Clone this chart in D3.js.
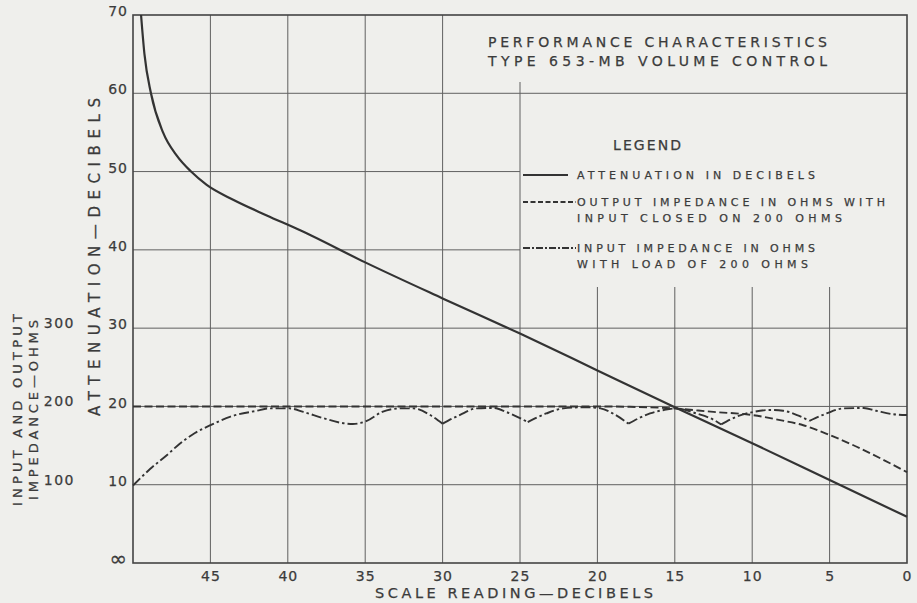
<!DOCTYPE html>
<html>
<head>
<meta charset="utf-8">
<script src="https://cdn.jsdelivr.net/npm/d3@7"></script>
<style>
  body { margin: 0; background: #efefec; }
  svg { display: block; }
  text { font-family: 'DejaVu Sans', sans-serif; fill: #3b3b3b; stroke: #3b3b3b; stroke-width: 0.25; }
</style>
</head>
<body>
<svg id="chart" width="917" height="603"></svg>
<script>
// [scale reading dB, attenuation dB]
const attenuation = [
  [49.48, 70], [49.26, 65], [48.84, 60], [48.06, 55], [47.16, 52], [46.25, 50],
  [45.24, 48.3], [43.53, 46.4], [41.36, 44.4], [39.2, 42.5],
  [35, 38.4], [30, 33.8], [25, 29.3], [20, 24.6], [15, 19.9], [10, 15.3], [5, 10.6], [0, 5.9]
];
// [scale reading dB, ohms]
const outputImpedance = [
  [50, 200], [20, 200], [17.9, 199.5], [15.1, 197.5], [12.5, 193], [10, 189], [8.2, 182.5],
  [6.7, 176], [5, 163.5], [3.25, 148.5], [1.5, 131.5], [0, 116]
];
const inputImpedance = [
  [50, 99], [48.9, 120], [47.8, 138], [47, 152], [46, 166], [45, 176], [43.7, 187], [42, 194.5],
  [41.2, 197.5], [39.9, 197.5], [39, 193], [37.7, 185], [36.4, 178.5], [35.8, 177.5], [34.9, 181.5],
  [33.9, 193], [32.75, 197.5], [31.9, 197.5], [30.8, 189], [30, 178],
  [28.9, 189], [27.8, 197.5], [26.7, 198], [25.9, 193], [24.5, 180],
  [23.3, 191], [22.2, 197.5], [20.7, 199], [19.8, 197.5], [19, 191], [18, 178],
  [16.6, 191], [15.7, 195.5], [14.9, 197.5], [13.6, 191], [12.5, 183], [12, 177],
  [11, 187], [9.9, 193], [8.85, 195.5], [8, 194.5], [7.1, 189], [6.3, 181.5],
  [5.2, 191], [4.1, 197.5], [2.8, 198], [2, 194.5], [0.9, 190], [0, 189]
];
// readings where the input impedance curve has a sharp cusp
const inputCusps = [30, 24.5, 18, 12, 6.3];

const xTicks = [45, 40, 35, 30, 25, 20, 15, 10, 5, 0];
const dbTicks = [0, 10, 20, 30, 40, 50, 60, 70];
const ohmTicks = [100, 200, 300];

const titleLines = ['PERFORMANCE CHARACTERISTICS', 'TYPE 653-MB VOLUME CONTROL'];
const legendLabels = [
  ['ATTENUATION IN DECIBELS'],
  ['OUTPUT IMPEDANCE IN OHMS WITH', 'INPUT CLOSED ON 200 OHMS'],
  ['INPUT IMPEDANCE IN OHMS', 'WITH LOAD OF 200 OHMS']
];

const svg = d3.select('#chart');
const plotLeft = 133, plotRight = 907, plotTop = 15, plotBottom = 563;

const x = d3.scaleLinear().domain([50, 0]).range([plotLeft, plotRight]);
const yDb = d3.scaleLinear().domain([0, 70]).range([plotBottom, plotTop]);
const yOhm = d3.scaleLinear().domain([0, 700]).range([plotBottom, plotTop]);

const ink = '#333';
const gridColor = '#606060';

// grid, with the title / legend panel at top right kept clear
const legendTop = 287;
const grid = svg.append('g');
grid.selectAll('line.v')
  .data(xTicks.filter(d => d > 0))
  .enter().append('line')
  .attr('x1', d => x(d)).attr('x2', d => x(d))
  .attr('y1', d => d >= 30 ? plotTop : (d === 25 ? 82 : legendTop))
  .attr('y2', plotBottom)
  .attr('stroke', gridColor).attr('stroke-width', 1);
grid.selectAll('line.h')
  .data(dbTicks.filter(d => d > 0 && d < 70))
  .enter().append('line')
  .attr('x1', plotLeft)
  .attr('x2', d => (d === 40 || d === 50) ? x(25) : plotRight)
  .attr('y1', d => yDb(d)).attr('y2', d => yDb(d))
  .attr('stroke', gridColor).attr('stroke-width', 1);

svg.append('rect')
  .attr('x', plotLeft).attr('y', plotTop)
  .attr('width', plotRight - plotLeft).attr('height', plotBottom - plotTop)
  .attr('fill', 'none').attr('stroke', '#444').attr('stroke-width', 1.6);

// axis tick labels
const dbAxis = d3.axisLeft(yDb).tickValues(dbTicks).tickSize(0).tickPadding(5)
  .tickFormat(d => d === 0 ? '\u221E' : d);
const gDb = svg.append('g').attr('transform', `translate(${plotLeft},0)`).call(dbAxis);
gDb.select('.domain').remove();
gDb.selectAll('text')
  .attr('font-size', d => d === 0 ? 21 : 14)
  .attr('dy', d => d === 0 ? '0.12em' : '0.05em')
  .attr('letter-spacing', 1)
  .attr('font-family', 'DejaVu Sans').attr('fill', '#3b3b3b');

const ohmAxis = d3.axisLeft(yOhm).tickValues(ohmTicks).tickSize(0).tickPadding(0);
const gOhm = svg.append('g').attr('transform', 'translate(75,0)').call(ohmAxis);
gOhm.select('.domain').remove();
gOhm.selectAll('text')
  .attr('font-size', 14).attr('dy', '-0.05em').attr('letter-spacing', 1.5)
  .attr('font-family', 'DejaVu Sans').attr('fill', '#3b3b3b');

const xAxis = d3.axisBottom(x).tickValues(xTicks).tickSize(0).tickPadding(8);
const gX = svg.append('g').attr('transform', `translate(0,${plotBottom})`).call(xAxis);
gX.select('.domain').remove();
gX.selectAll('text')
  .attr('font-size', 14).attr('letter-spacing', 1)
  .attr('font-family', 'DejaVu Sans').attr('fill', '#3b3b3b');

// axis titles
svg.append('text')
  .attr('x', 514).attr('y', 598)
  .attr('text-anchor', 'middle').attr('font-size', 14.5)
  .attr('textLength', 278).attr('lengthAdjust', 'spacing')
  .text('SCALE READING\u2014DECIBELS');
svg.append('text')
  .attr('transform', 'translate(100,257) rotate(-90)')
  .attr('text-anchor', 'middle').attr('font-size', 15)
  .attr('textLength', 318).attr('lengthAdjust', 'spacing')
  .text('ATTENUATION\u2014DECIBELS');
svg.append('text')
  .attr('transform', 'translate(22,410) rotate(-90)')
  .attr('text-anchor', 'middle').attr('font-size', 13)
  .attr('textLength', 192).attr('lengthAdjust', 'spacing')
  .text('INPUT AND OUTPUT');
svg.append('text')
  .attr('transform', 'translate(38,410) rotate(-90)')
  .attr('text-anchor', 'middle').attr('font-size', 13)
  .attr('textLength', 180).attr('lengthAdjust', 'spacing')
  .text('IMPEDANCE\u2014OHMS');

// curves
const lineDb = d3.line()
  .x(d => x(d[0])).y(d => yDb(d[1]))
  .curve(d3.curveMonotoneX);
const lineOhm = d3.line()
  .x(d => x(d[0])).y(d => yOhm(d[1]))
  .curve(d3.curveMonotoneX);

svg.append('path')
  .attr('d', lineOhm(outputImpedance))
  .attr('fill', 'none').attr('stroke', ink)
  .attr('stroke-width', 1.9).attr('stroke-dasharray', '8,3.5');

// split the input impedance curve at the cusps so they stay sharp
const pieces = [];
let cur = [];
inputImpedance.forEach(p => {
  cur.push(p);
  if (inputCusps.includes(p[0])) {
    pieces.push(cur);
    cur = [p];
  }
});
if (cur.length > 1) pieces.push(cur);

svg.append('g')
  .selectAll('path')
  .data(pieces)
  .enter().append('path')
  .attr('d', d => lineOhm(d))
  .attr('fill', 'none').attr('stroke', ink)
  .attr('stroke-width', 1.9).attr('stroke-dasharray', '10,3,2.5,3');

svg.append('path')
  .attr('d', lineDb(attenuation))
  .attr('fill', 'none').attr('stroke', ink)
  .attr('stroke-width', 2.2);

// title
svg.append('g')
  .selectAll('text')
  .data(titleLines)
  .enter().append('text')
  .attr('x', 488).attr('y', (d, i) => 47 + i * 19)
  .attr('font-size', 14)
  .attr('textLength', 339).attr('lengthAdjust', 'spacing')
  .text(d => d);

// legend
svg.append('text')
  .attr('x', 613).attr('y', 150)
  .attr('font-size', 14)
  .attr('textLength', 68).attr('lengthAdjust', 'spacing')
  .text('LEGEND');

const legendRows = [
  { y: 175, x2: 568, dash: null, widths: [238] },
  { y: 202, x2: 576, dash: '5,2.5', widths: [308, 265] },
  { y: 248, x2: 576, dash: '7,2,2,2', widths: [238, 231] }
];
legendRows.forEach((row, i) => {
  svg.append('line')
    .attr('x1', 523).attr('x2', row.x2)
    .attr('y1', row.y).attr('y2', row.y)
    .attr('stroke', ink).attr('stroke-width', 1.9)
    .attr('stroke-dasharray', row.dash);
  legendLabels[i].forEach((t, j) => {
    svg.append('text')
      .attr('x', 577).attr('y', row.y + 4 + j * 16)
      .attr('font-size', 11)
      .attr('textLength', row.widths[j]).attr('lengthAdjust', 'spacing')
      .text(t);
  });
});
</script>
</body>
</html>
